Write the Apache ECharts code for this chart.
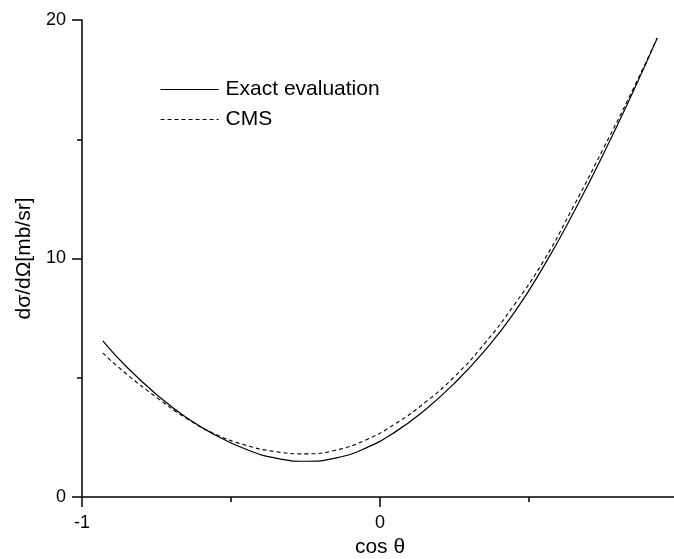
<!DOCTYPE html>
<html>
<head>
<meta charset="utf-8">
<script src="https://cdn.jsdelivr.net/npm/echarts@6/dist/echarts.min.js"></script>
<style>
html,body{margin:0;padding:0;background:#fff;}
#c{width:674px;height:559px;}
</style>
</head>
<body>
<div id="c"></div>
<script>
const cosTheta = [-0.93, -0.85, -0.75, -0.65, -0.55, -0.45, -0.35, -0.25, -0.15, -0.05, 0.05, 0.15, 0.25, 0.35, 0.45, 0.55, 0.65, 0.75, 0.85, 0.93];
const exactValues = [6.55, 5.45, 4.30, 3.33, 2.58, 2.00, 1.63, 1.50, 1.63, 2.04, 2.72, 3.64, 4.77, 6.12, 7.72, 9.69, 11.94, 14.39, 17.01, 19.23];
const cmsValues = [6.03, 5.15, 4.18, 3.30, 2.62, 2.17, 1.90, 1.81, 1.96, 2.38, 3.06, 3.95, 5.05, 6.42, 8.05, 9.92, 12.20, 14.62, 17.12, 19.25];
const seriesNames = ['Exact evaluation', 'CMS'];
const xTicks = {min: -1, max: 1, interval: 1};
const yTicks = {min: 0, max: 20, interval: 10};

const pairs = (ys) => cosTheta.map((x, i) => [x, ys[i]]);
const font = 'Liberation Sans, Arial, Helvetica, sans-serif';

const chart = echarts.init(document.getElementById('c'), null, {renderer: 'canvas'});
chart.setOption({
  animation: false,
  backgroundColor: '#fff',
  grid: {left: 82, top: 20, right: -4, bottom: 62, containLabel: false, outerBoundsMode: 'none'},
  legend: {
    show: true,
    orient: 'vertical',
    left: 155, top: 74,
    itemWidth: 58, itemHeight: 20, itemGap: 9,
    itemStyle: {opacity: 0},
    lineStyle: {width: 1.1},
    textStyle: {fontFamily: font, fontSize: 21, color: '#000', padding: [0, 0, 0, 2]},
    data: seriesNames
  },
  xAxis: {
    type: 'value', min: xTicks.min, max: xTicks.max, interval: xTicks.interval,
    name: 'cos θ', nameLocation: 'middle', nameGap: 37,
    nameTextStyle: {fontFamily: font, fontSize: 21, color: '#000'},
    axisLine: {show: true, onZero: false, lineStyle: {color: '#000', width: 1.5}},
    axisTick: {show: true, inside: false, length: 10, lineStyle: {color: '#000', width: 1.5}},
    minorTick: {show: true, splitNumber: 2, length: 5, lineStyle: {color: '#000', width: 1.5}},
    axisLabel: {fontFamily: font, fontSize: 18, color: '#000', margin: 17},
    splitLine: {show: false}
  },
  yAxis: {
    type: 'value', min: yTicks.min, max: yTicks.max, interval: yTicks.interval,
    name: 'dσ/dΩ[mb/sr]', nameLocation: 'middle', nameGap: 46,
    nameTextStyle: {fontFamily: font, fontSize: 21, color: '#000'},
    axisLine: {show: true, onZero: false, lineStyle: {color: '#000', width: 1.5}},
    axisTick: {show: true, inside: false, length: 10, lineStyle: {color: '#000', width: 1.5}},
    minorTick: {show: true, splitNumber: 2, length: 5, lineStyle: {color: '#000', width: 1.5}},
    axisLabel: {fontFamily: font, fontSize: 18, color: '#000', margin: 16},
    splitLine: {show: false}
  },
  series: [
    {
      name: seriesNames[0], type: 'line', data: pairs(exactValues),
      smooth: 0.5, showSymbol: false, symbol: 'none',
      lineStyle: {color: '#000', width: 1.2, type: 'solid'},
      itemStyle: {color: '#000'}
    },
    {
      name: seriesNames[1], type: 'line', data: pairs(cmsValues),
      smooth: 0.5, showSymbol: false, symbol: 'none',
      lineStyle: {color: '#000', width: 1.1, type: [4, 3]},
      itemStyle: {color: '#000'}
    }
  ]
});
</script>
</body>
</html>
